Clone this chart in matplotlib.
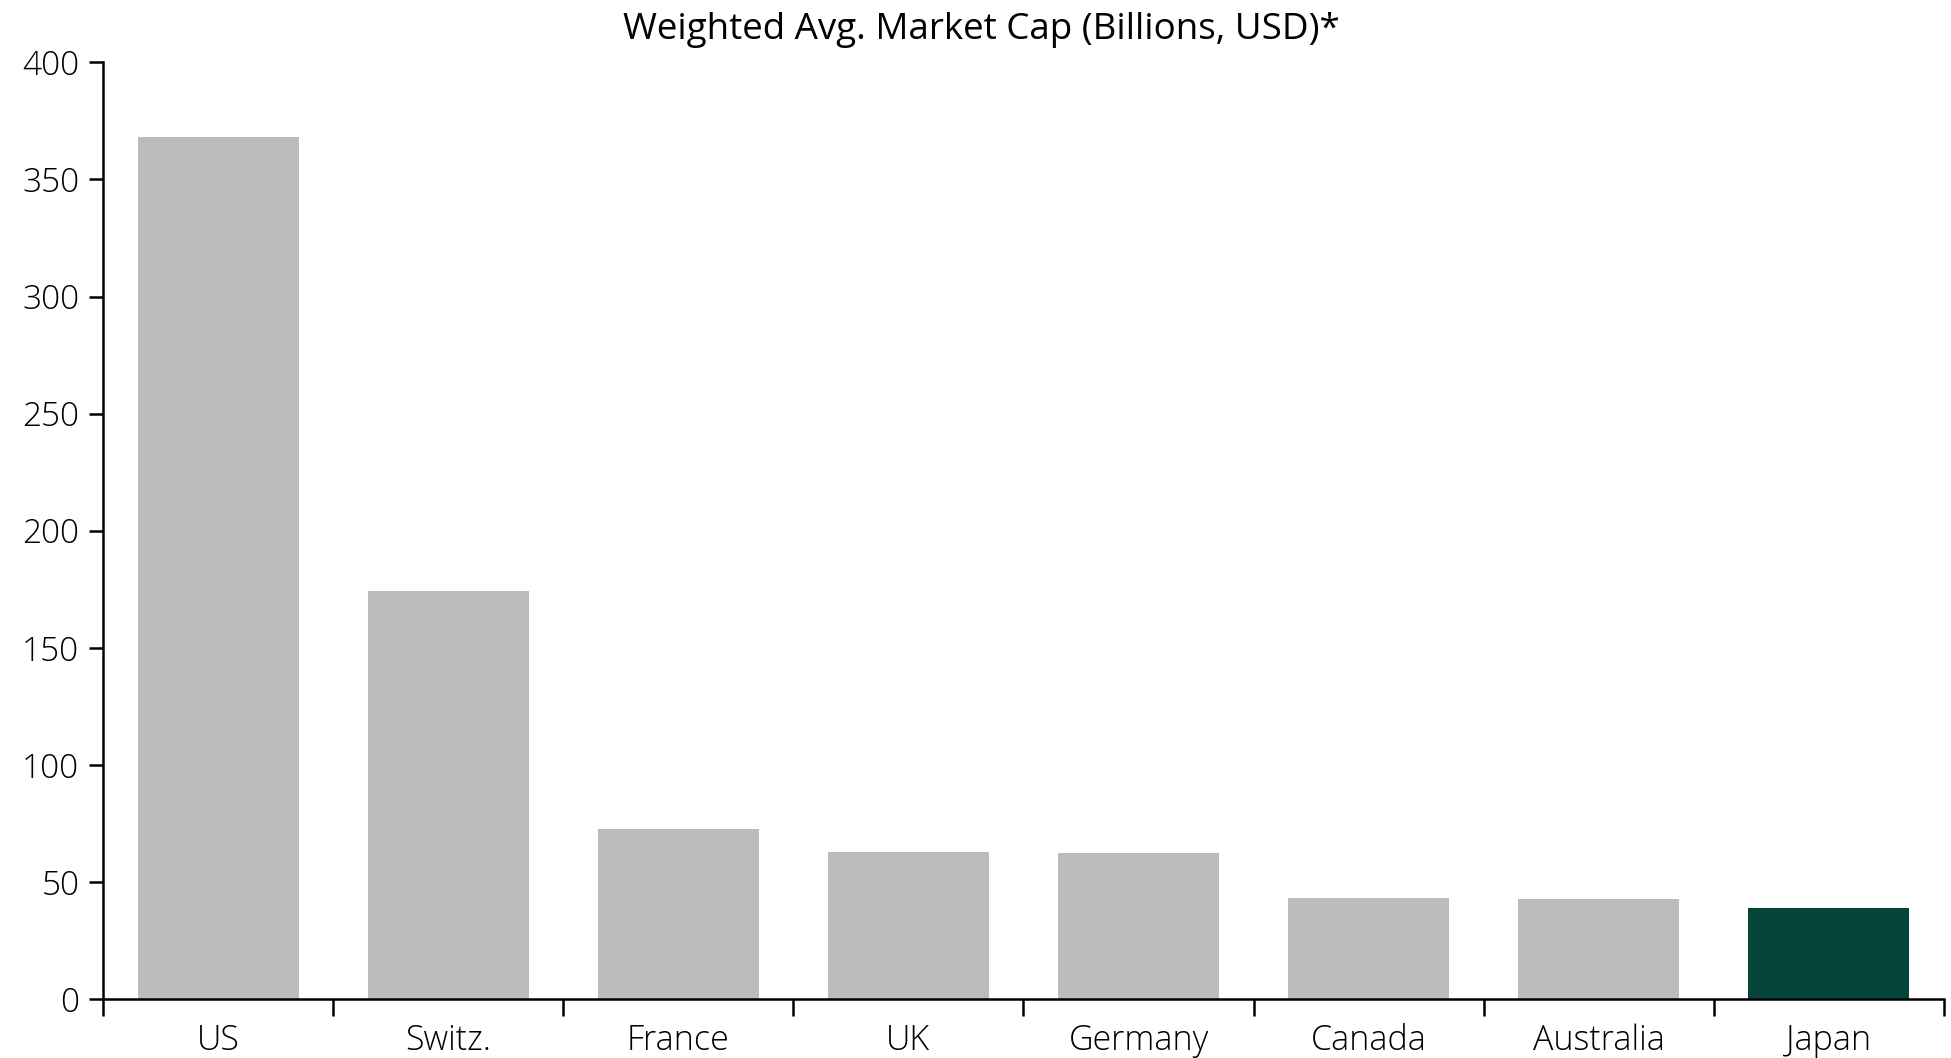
import numpy as np
import matplotlib.pyplot as plt

# data
countries = ["US", "Switz.", "France", "UK", "Germany", "Canada", "Australia", "Japan"]
market_cap = [368.1, 174.4, 72.8, 62.7, 62.2, 43.0, 42.6, 38.8]
highlight = "Japan"

plt.rcParams['font.family'] = ['Open Sans', 'DejaVu Sans']

fig = plt.figure(figsize=(19.51, 10.58), dpi=100)
ax = fig.add_axes([0.0528, 0.0558, 0.9436, 0.8852])

x = np.arange(len(countries))
colors = ["#06453A" if c == highlight else "#BBBDBC" for c in countries]
ax.bar(x, market_cap, width=0.7, color=colors, zorder=2)

ax.set_xlim(-0.5, len(countries) - 0.5)
ax.set_ylim(0, 400)
ax.set_yticks(range(0, 401, 50))
ax.tick_params(axis='y', labelsize=24, length=10, width=1.8, pad=7)
for lab in ax.get_yticklabels():
    lab.set_fontweight('light')

# labels in the middle, ticks on the category boundaries
ax.set_xticks(x)
ax.set_xticklabels(countries, fontweight='light')
ax.set_xticks(np.arange(-0.5, len(countries)), minor=True)
ax.tick_params(axis='x', which='major', length=0, labelsize=24.5, pad=18)
ax.tick_params(axis='x', which='minor', length=12, width=1.8)

for s in ['top', 'right']:
    ax.spines[s].set_visible(False)
for s in ['left', 'bottom']:
    ax.spines[s].set_linewidth(1.8)

fig.text(0.503, 0.972, "Weighted Avg. Market Cap (Billions, USD)*",
         ha='center', va='center', fontsize=26.5)

fig.savefig("out.png", dpi=100)
